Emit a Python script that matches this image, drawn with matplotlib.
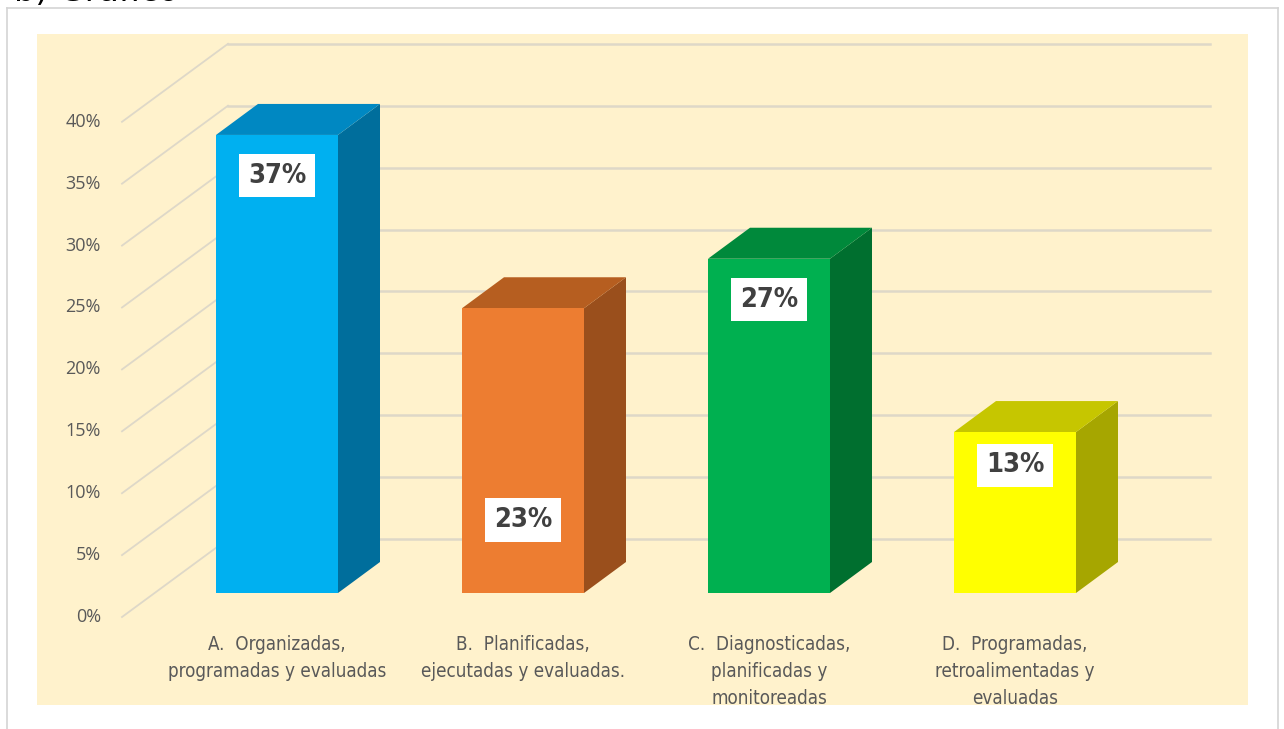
import matplotlib
matplotlib.use("Agg")
import matplotlib.pyplot as plt
from matplotlib.patches import Polygon, Rectangle
from matplotlib.lines import Line2D

# ---------------- data ----------------
categories = [
    "A.  Organizadas,\nprogramadas y evaluadas",
    "B.  Planificadas,\nejecutadas y evaluadas.",
    "C.  Diagnosticadas,\nplanificadas y\nmonitoreadas",
    "D.  Programadas,\nretroalimentadas y\nevaluadas",
]
values = [37, 23, 27, 13]
value_labels = ["37%", "23%", "27%", "13%"]
yticks = [0, 5, 10, 15, 20, 25, 30, 35, 40]
ytick_labels = ["0%", "5%", "10%", "15%", "20%", "25%", "30%", "35%", "40%"]

front_colors = ["#00B0F0", "#ED7D31", "#00B050", "#FFFF00"]
top_colors = ["#0088C2", "#B65E20", "#00893B", "#C6C600"]
side_colors = ["#006E9C", "#9A4F1C", "#006F2F", "#A6A600"]
label_drop = [3.3, 17.1, 3.3, 2.7]   # how far below the bar top each value label sits

# ---------------- layout ----------------
W, H = 1284, 729
PX_CAT, PX_PCT = 246.0, 12.38      # pixels per category / per percent
X0, Y0 = 277.0, 593.0               # pixel position of category 0 / 0 %
NARROW = ["DejaVu Sans"]

fig = plt.figure(figsize=(W / 100, H / 100), dpi=100)
fig.patch.set_facecolor("white")

# outer frame and cream panel
fig.add_artist(Line2D([7 / W, 7 / W], [0, 1 - 8 / H], color="#D4D4D4", lw=1.2))
fig.add_artist(Line2D([7 / W, 1278 / W], [1 - 8 / H, 1 - 8 / H], color="#D4D4D4", lw=1.2))
fig.add_artist(Line2D([1278 / W, 1278 / W], [0, 1 - 8 / H], color="#D4D4D4", lw=1.2))
fig.add_artist(Rectangle((37 / W, (H - 705) / H), (1248 - 37) / W, (705 - 34) / H,
                         transform=fig.transFigure, facecolor="#FFF2CC",
                         edgecolor="none", zorder=0))
fig.text(14 / W, 1 - 1 / H, "b) Gráfico", fontsize=24, color="black",
         va="baseline", ha="left")

ax = fig.add_axes([0, 0, 1, 1])
ax.set_xlim(-X0 / PX_CAT, (W - X0) / PX_CAT)
ax.set_ylim((Y0 - H) / PX_PCT, Y0 / PX_PCT)
ax.axis("off")
ax.patch.set_alpha(0)

def px_x(p):
    return (p - X0) / PX_CAT

def px_y(p):
    return (Y0 - p) / PX_PCT

# perspective grid: diagonal on floor-left, horizontal on back wall
front_x, back_x, right_x = px_x(122), px_x(228), px_x(1210)
front_dy, back_dy = px_y(617), px_y(539)
grid_col = "#DED8C8"
for t, lab in zip(yticks, ytick_labels):
    ax.plot([front_x, back_x], [t + front_dy, t + back_dy], color=grid_col, lw=1.3, zorder=1)
    ax.plot([back_x, right_x], [t + back_dy, t + back_dy], color=grid_col, lw=1.8, zorder=1)
    ax.text(px_x(101), t + front_dy, lab, ha="right", va="center",
            fontsize=13, color="#595959", family=["Open Sans", "DejaVu Sans"])

# 3D bars
bw = 122 / PX_CAT
ddx, ddy = 42 / PX_CAT, 31 / PX_PCT
for i, v in enumerate(values):
    xl, xr = i - bw / 2, i + bw / 2
    ax.add_patch(Polygon([(xr, 0), (xr + ddx, ddy), (xr + ddx, v + ddy), (xr, v)],
                         closed=True, facecolor=side_colors[i], edgecolor="none", zorder=3))
    ax.add_patch(Polygon([(xl, v), (xl + ddx, v + ddy), (xr + ddx, v + ddy), (xr, v)],
                         closed=True, facecolor=top_colors[i], edgecolor="none", zorder=3))
    ax.add_patch(Rectangle((xl, 0), bw, v, facecolor=front_colors[i],
                           edgecolor="none", zorder=4))
    ax.text(i, v - label_drop[i], value_labels[i], ha="center", va="center",
            fontsize=19.5, fontweight="bold", fontstretch="condensed", color="#404040",
            family=NARROW, zorder=6,
            bbox=dict(boxstyle="square,pad=0.32", facecolor="white", edgecolor="none"))

# category labels
for i, c in enumerate(categories):
    ax.text(i, px_y(635), c, ha="center", va="top", fontsize=13.5, color="#595959",
            linespacing=1.55, fontstretch="condensed", family=NARROW, zorder=5)

fig.savefig("out.png", dpi=100)
